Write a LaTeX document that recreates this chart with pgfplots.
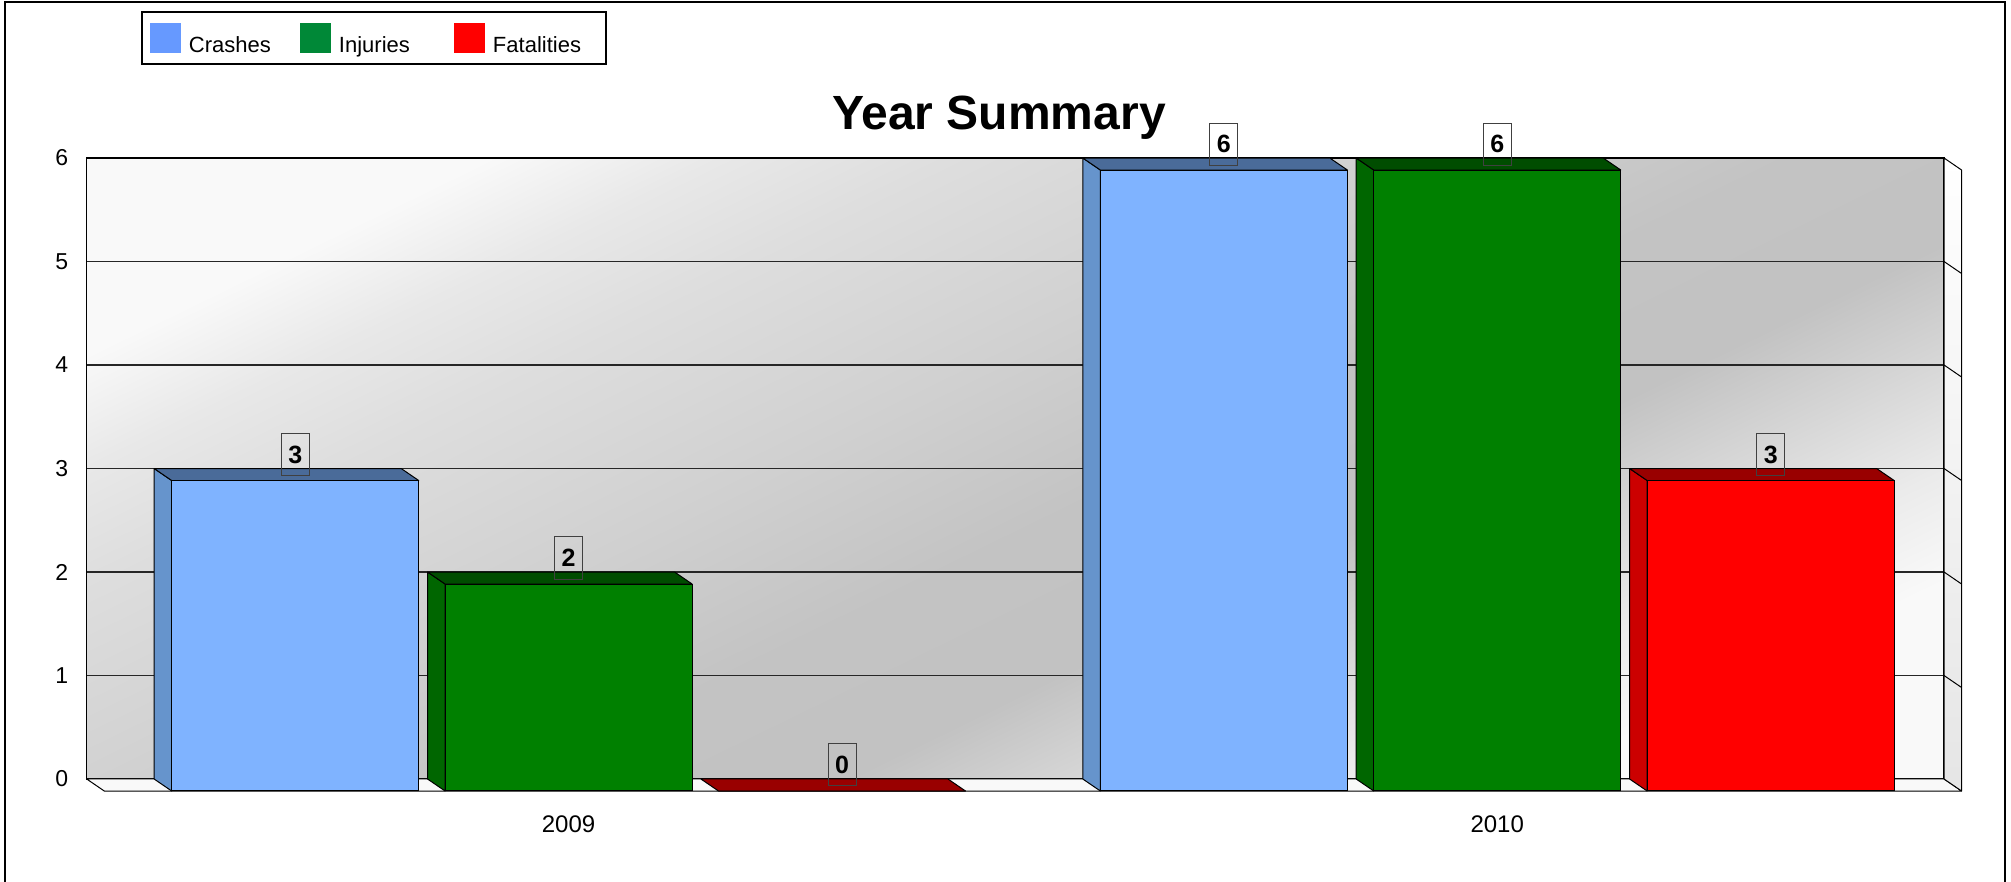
\documentclass[border=0pt]{standalone}
\usepackage{fontspec}
\setmainfont{Liberation Sans}
\usepackage{pgfplots}
\pgfplotsset{compat=1.18}

\definecolor{crashF}{HTML}{7FB3FF}
\definecolor{crashS}{HTML}{6694CC}
\definecolor{crashT}{HTML}{4A6B99}
\definecolor{crashL}{HTML}{6699FF}
\definecolor{injF}{HTML}{008000}
\definecolor{injS}{HTML}{006600}
\definecolor{injT}{HTML}{004D00}
\definecolor{injL}{HTML}{008837}
\definecolor{fatF}{HTML}{FF0000}
\definecolor{fatS}{HTML}{CC0000}
\definecolor{fatT}{HTML}{990000}
\definecolor{fatL}{HTML}{FF0000}
\definecolor{wallL}{HTML}{F9F9F9}
\definecolor{wallD}{HTML}{C0C0C0}

\pgfdeclareverticalshading{wallshade}{100bp}{%
  color(0bp)=(wallL); color(25bp)=(wallL); color(30bp)=(black!8);
  color(35bp)=(black!16); color(40bp)=(black!24); color(47bp)=(black!23.5);
  color(55bp)=(black!18.5); color(65bp)=(black!13); color(70bp)=(black!9);
  color(75bp)=(wallL); color(100bp)=(wallL)}

\begin{document}
\begin{tikzpicture}
\path[use as bounding box] (0,0) rectangle (1005.5pt,441pt);
\draw[line width=1pt] (2.5pt,0) -- (2.5pt,440pt) -- (1002.5pt,440pt) -- (1002.5pt,0);
\begin{axis}[
  scale only axis, width=928.65pt, height=310.5pt,
  at={(43.35pt,51.5pt)}, anchor=south west,
  xmin=-0.5, xmax=1.5, ymin=0, ymax=6,
  clip=false,
  axis background/.style={shade, shading=wallshade, shading angle=26},
  axis line style={black, line width=0.75pt},
  ymajorgrids, grid style={black!85, line width=0.6pt},
  ytick={0,1,2,3,4,5,6},
  xtick={0.0189,1.0189}, xticklabels={2009,2010},
  major tick length=0pt,
  /pgf/number format/assume math mode=true,
  yticklabel style={font=\fontsize{11.5}{13}\selectfont, anchor=east, inner sep=0pt, xshift=-9.1pt},
  xticklabel style={font=\fontsize{12}{14}\selectfont, anchor=north, inner sep=0pt, yshift=-18pt},
  title={Year Summary},
  title style={at={(axis description cs:0.4912,1.0264)}, anchor=base, yshift=0pt,
    font=\fontsize{24}{28}\selectfont\bfseries, inner sep=0pt},
  legend columns=3,
  legend cell align=left,
  legend style={at={(axis description cs:0.0296,1.2346)}, anchor=north west,
    draw=black, line width=1pt, inner xsep=4.15pt, inner ysep=5.5pt, outer sep=0pt,
    font=\fontsize{11}{13}\selectfont,
    nodes={inner sep=0pt, text height=8pt, text depth=0pt, anchor=west},
    /tikz/every odd column/.append style={column sep=4pt}},
  every node near coord/.append style={anchor=south, draw=black!75, line width=0.5pt,
    minimum width=14pt, minimum height=21pt, inner sep=0pt,
    font=\fontsize{12.5}{14}\selectfont\bfseries, yshift=2.25pt},
  face/.style={forget plot, draw=black, line width=0.5pt, line join=round},
]
% floor and right side wall
\addplot[face, shade, left color=wallL, middle color=wallD!110, right color=wallL]
  coordinates {(-0.5,0) (1.5,0) (1.5189,-0.116) (-0.4811,-0.116) (-0.5,0)};
\addplot[face, shade, top color=white, bottom color=black!10]
  coordinates {(1.5,0) (1.5,6) (1.5189,5.884) (1.5189,-0.116) (1.5,0)};
\addplot[forget plot, black, line width=0.5pt, unbounded coords=jump]
  coordinates {(1.5,1) (1.5189,0.884) (nan,nan) (1.5,2) (1.5189,1.884) (nan,nan)
               (1.5,3) (1.5189,2.884) (nan,nan) (1.5,4) (1.5189,3.884) (nan,nan)
               (1.5,5) (1.5189,4.884)};

% 3D side and top faces
\addplot[face, fill=crashS] coordinates {(-0.4274,0) (-0.4274,3) (-0.4085,2.884) (-0.4085,-0.116) (-0.4274,0)};
\addplot[face, fill=crashT] coordinates {(-0.4274,3) (-0.1614,3) (-0.1425,2.884) (-0.4085,2.884) (-0.4274,3)};
\addplot[face, fill=injS] coordinates {(-0.133,0) (-0.133,2) (-0.1141,1.884) (-0.1141,-0.116) (-0.133,0)};
\addplot[face, fill=injT] coordinates {(-0.133,2) (0.133,2) (0.1519,1.884) (-0.1141,1.884) (-0.133,2)};
\addplot[face, fill=fatT] coordinates {(0.1614,0) (0.4274,0) (0.4463,-0.116) (0.1803,-0.116) (0.1614,0)};
\addplot[face, fill=crashS] coordinates {(0.5726,0) (0.5726,6) (0.5915,5.884) (0.5915,-0.116) (0.5726,0)};
\addplot[face, fill=crashT] coordinates {(0.5726,6) (0.8386,6) (0.8575,5.884) (0.5915,5.884) (0.5726,6)};
\addplot[face, fill=injS] coordinates {(0.867,0) (0.867,6) (0.8859,5.884) (0.8859,-0.116) (0.867,0)};
\addplot[face, fill=injT] coordinates {(0.867,6) (1.133,6) (1.1519,5.884) (0.8859,5.884) (0.867,6)};
\addplot[face, fill=fatS] coordinates {(1.1614,0) (1.1614,3) (1.1803,2.884) (1.1803,-0.116) (1.1614,0)};
\addplot[face, fill=fatT] coordinates {(1.1614,3) (1.4274,3) (1.4463,2.884) (1.1803,2.884) (1.1614,3)};

% front faces (the data)
\addplot[ybar, bar width=0.266, bar shift=-0.2755, fill=crashF, draw=black, line width=0.5pt,
  yshift=-6pt, nodes near coords,
  every node near coord/.append style={xshift=-127.9pt},
  legend image code/.code={\fill[crashL] (0pt,1.9pt) rectangle (15pt,16.4pt);}]
  coordinates {(0,3) (1,6)};
\addlegendentry{\makebox[55.5pt][l]{Crashes}}
\addplot[ybar, bar width=0.266, bar shift=0.0189, fill=injF, draw=black, line width=0.5pt,
  yshift=-6pt, nodes near coords,
  every node near coord/.append style={xshift=8.78pt},
  legend image code/.code={\fill[injL] (0pt,1.9pt) rectangle (15pt,16.4pt);}]
  coordinates {(0,2) (1,6)};
\addlegendentry{\makebox[57.5pt][l]{Injuries}}
\addplot[ybar, bar width=0.266, bar shift=0.3133, fill=fatF, draw=black, line width=0.5pt,
  yshift=-6pt, nodes near coords,
  every node near coord/.append style={xshift=145.5pt},
  legend image code/.code={\fill[fatL] (0pt,1.9pt) rectangle (15pt,16.4pt);}]
  coordinates {(0,0) (1,3)};
\addlegendentry{\makebox[52.5pt][l]{Fatalities}}
\end{axis}
\end{tikzpicture}
\end{document}
